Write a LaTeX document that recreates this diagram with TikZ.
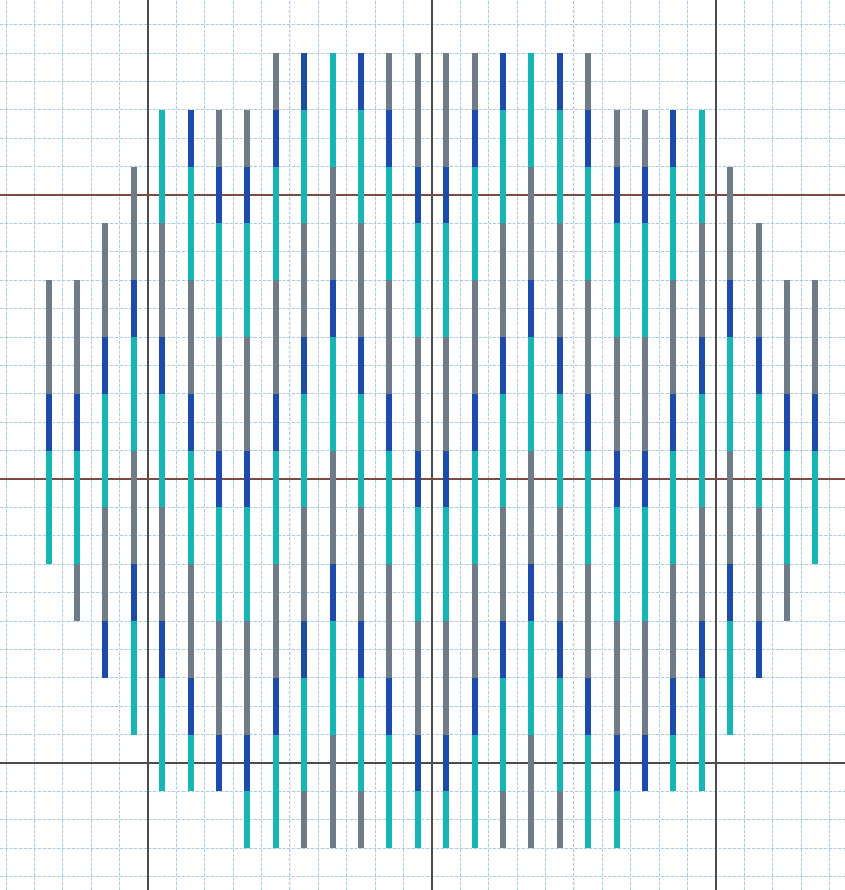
\documentclass[tikz,border=0pt]{standalone}
\usepackage{tikz}

\definecolor{barG}{HTML}{6F7C88}
\definecolor{barB}{HTML}{1D4BA9}
\definecolor{barT}{HTML}{17B6B6}
\definecolor{gridblue}{HTML}{9DD0EA}
\definecolor{gridpink}{HTML}{FBEAE6}
\definecolor{axisred}{HTML}{7D4A42}

\def\stripbraces#1{#1}

\begin{document}
\begin{tikzpicture}[
    x=0.5cm, y=0.5cm,
    minorline/.style={draw=gridpink, line width=0.4pt},
    dashline/.style={draw=gridblue, line width=0.45pt, dash pattern=on 1.4pt off 1pt},
    vaxis/.style={draw=black!70, line width=0.6pt},
    haxis/.style={draw=axisred, line width=0.6pt},
    seg/.style={line width=3pt}
]

% canvas
\fill[white] (-0.21,-0.47) rectangle (29.54,30.87);
\useasboundingbox (-0.21,-0.47) rectangle (29.54,30.87);

% grid
\foreach \i in {0,...,29} {
  \draw[minorline] (\i,-0.47) -- (\i,30.87);
  \draw[dashline] (\i,-0.47) -- (\i,30.87);
}
\foreach \j in {0,...,30} {
  \draw[minorline] (-0.21,\j) -- (29.54,\j);
  \draw[dashline] (-0.21,\j) -- (29.54,\j);
}

% heavy lines
\foreach \i in {5,15,25}
  \draw[vaxis] (\i,-0.47) -- (\i,30.87);
\draw[haxis] (-0.21,24) -- (29.54,24);
\draw[haxis] (-0.21,14) -- (29.54,14);
\draw[vaxis] (-0.21,4) -- (29.54,4);

% bars (left half, mirrored to the right)
\foreach \i/\top/\cols in {
  0/4/{G,G,B,T,T},
  1/4/{G,G,B,T,T,G},
  2/3/{G,G,B,T,T,G,G,B},
  3/2/{G,G,B,T,T,G,G,B,T,T},
  4/1/{T,T,G,G,B,T,T,G,G,B,T,T},
  5/1/{B,T,T,G,G,B,T,T,G,G,B,T},
  6/1/{G,B,T,T,G,G,B,T,T,G,G,B},
  7/1/{G,B,T,T,G,G,B,T,T,G,G,B,T},
  8/0/{G,B,T,T,G,G,B,T,T,G,G,B,T,T},
  9/0/{B,T,T,G,G,B,T,T,G,G,B,T,T,G},
  10/0/{T,T,G,G,B,T,T,G,G,B,T,T,G,G},
  11/0/{B,T,T,G,G,B,T,T,G,G,B,T,T,G},
  12/0/{G,B,T,T,G,G,B,T,T,G,G,B,T,T},
  13/0/{G,G,B,T,T,G,G,B,T,T,G,G,B,T}}{
  \edef\clist{\expandafter\stripbraces\cols}
  \foreach \k [count=\n from 0] in \clist {
    \pgfmathsetmacro{\ytop}{29-2*(\top+\n)}
    \draw[seg, draw=bar\k] (1.5+\i,\ytop) -- ++(0,-2);
    \draw[seg, draw=bar\k] (28.5-\i,\ytop) -- ++(0,-2);
  }
}

\end{tikzpicture}
\end{document}
